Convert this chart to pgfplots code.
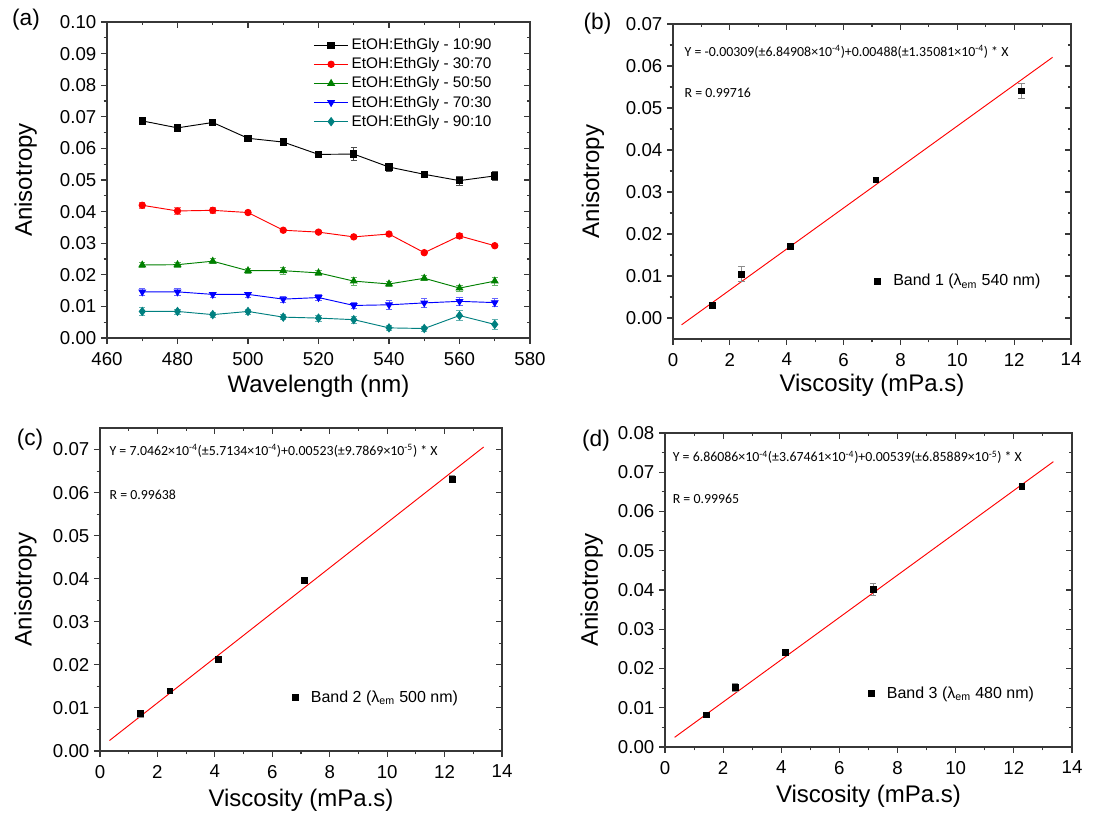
\documentclass[border=0pt]{standalone}
\usepackage{pgfplots}
\pgfplotsset{compat=1.18}
\usepackage{fontspec}
\setmainfont{Liberation Sans}
\newfontfamily\calfont{Carlito}
\definecolor{ogreen}{RGB}{0,128,0}
\definecolor{oteal}{RGB}{0,128,128}
\definecolor{axc}{RGB}{55,55,55}
\pgfplotsset{
 panel/.style={scale only axis, axis line style={axc,line width=0.8pt},
   tick style={axc,line width=0.8pt}, major tick length=4.5pt, minor tick length=2.5pt,
   minor x tick num=1, minor y tick num=1,
   tick label style={font=\fontsize{14}{16}\selectfont},
   label style={font=\fontsize{18}{21}\selectfont},
   /pgf/number format/assume math mode=true, scaled y ticks=false, scaled x ticks=false},
 front/.style={panel, tick align=outside, xtick pos=left, ytick pos=left,
   xticklabel style={yshift=-2.5pt},
   yticklabel style={/pgf/number format/.cd, fixed, fixed zerofill, precision=2}},
 back/.style={panel, tick align=inside, xtick pos=right, ytick pos=right,
   xticklabels={}, yticklabels={}},
 ebar/.style={error bars/.cd, y dir=both, y explicit,
   error bar style={#1, line width=0.5pt},
   error mark options={rotate=90, mark size=2.3pt, line width=0.5pt, #1}},
 ser/.style={line width=0.7pt, mark size=2.4pt, mark options={solid}},
 bandleg/.style={legend style={draw=none, fill=none, inner sep=0pt, anchor=west,
   font=\fontsize{12}{15}\selectfont},
   legend image code/.code={\path[draw=none,fill=none] (0pt,0pt) (20pt,0pt); \draw[mark repeat=2,mark phase=2,##1] plot coordinates {(0pt,0pt)(10pt,0pt)(20pt,0pt)};}},
}
\tikzset{eqfont/.style={font=\calfont\fontsize{10.4}{12.5}\selectfont, anchor=west, inner sep=0pt}}
\begin{document}
\begin{tikzpicture}
\useasboundingbox (0,0) rectangle (831.75pt,609.75pt);
\fill[white] (0,0) rectangle (831.75pt,609.75pt);

% ---------------- (a)
\begin{axis}[back, at={(80.25pt,356.25pt)}, anchor=south west, width=317.25pt, height=237pt,
  xmin=460, xmax=580, ymin=0, ymax=0.1, xtick={460,480,...,580},
  ytick={0,0.01,0.02,0.03,0.04,0.05,0.06,0.07,0.08,0.09,0.1}]
\end{axis}
\begin{axis}[front, at={(80.25pt,356.25pt)}, anchor=south west, width=317.25pt, height=237pt,
  xmin=460, xmax=580, ymin=0, ymax=0.1, xtick={460,480,...,580},
  ytick={0,0.01,0.02,0.03,0.04,0.05,0.06,0.07,0.08,0.09,0.1},
  xlabel={Wavelength (nm)}, ylabel={Anisotropy},
  x label style={at={(axis description cs:0.5,0)}, anchor=center, yshift=-36pt},
  y label style={at={(axis description cs:0,0.5)}, anchor=center, yshift=61pt},
  legend style={draw=none, fill=none, at={(axis description cs:0.925,0.965)}, anchor=north east,
    font=\fontsize{11.5}{13}\selectfont, row sep=0.5pt},
  legend cell align=left,
  legend image code/.code={\draw[mark repeat=2,mark phase=2,#1] plot coordinates {(0pt,0pt)(13pt,0pt)(26pt,0pt)};}]
\addplot[ser, black, mark=square*, ebar=black!70] table[x=x, y=y, y error=e] {
x y e
470 0.0687 0.0005
480 0.0665 0.0005
490 0.0682 0.0005
500 0.0632 0.0005
510 0.0620 0.0010
520 0.0581 0.0005
530 0.0582 0.0021
540 0.0541 0.0013
550 0.0518 0.0004
560 0.0498 0.0015
570 0.0513 0.0013
};
\addlegendentry{EtOH:EthGly - 10:90}
\addplot[ser, red, mark=*, ebar=red!60] table[x=x, y=y, y error=e] {
x y e
470 0.0420 0.0009
480 0.0402 0.0012
490 0.0404 0.0008
500 0.0397 0.0005
510 0.0341 0.0005
520 0.0335 0.0005
530 0.0320 0.0005
540 0.0329 0.0005
550 0.0270 0.0005
560 0.0323 0.0008
570 0.0292 0.0005
};
\addlegendentry{EtOH:EthGly - 30:70}
\addplot[ser, ogreen, mark=triangle*, mark size=2.8pt, ebar=ogreen!60] table[x=x, y=y, y error=e] {
x y e
470 0.0231 0.0008
480 0.0232 0.0008
490 0.0243 0.0008
500 0.0213 0.0008
510 0.0213 0.0012
520 0.0206 0.0008
530 0.0180 0.0012
540 0.0171 0.0008
550 0.0189 0.0008
560 0.0158 0.0010
570 0.0180 0.0012
};
\addlegendentry{EtOH:EthGly - 50:50}
\addplot[ser, blue, mark=triangle*, mark size=2.8pt, mark options={rotate=180}, ebar=blue!60] table[x=x, y=y, y error=e] {
x y e
470 0.0146 0.0010
480 0.0146 0.0010
490 0.0138 0.0008
500 0.0138 0.0008
510 0.0123 0.0010
520 0.0128 0.0010
530 0.0103 0.0010
540 0.0105 0.0014
550 0.0111 0.0014
560 0.0116 0.0013
570 0.0112 0.0013
};
\addlegendentry{EtOH:EthGly - 70:30}
\addplot[ser, oteal, mark=diamond*, mark size=3pt, ebar=oteal!60] table[x=x, y=y, y error=e] {
x y e
470 0.0084 0.0013
480 0.0084 0.0008
490 0.0074 0.0008
500 0.0084 0.0008
510 0.0066 0.0008
520 0.0063 0.0010
530 0.0058 0.0012
540 0.0032 0.0008
550 0.0030 0.0008
560 0.0071 0.0015
570 0.0043 0.0015
};
\addlegendentry{EtOH:EthGly - 90:10}
\end{axis}
\node[font=\fontsize{17}{20}\selectfont] at (19.5pt,594.75pt) {(a)};

% ---------------- (b)
\begin{axis}[back, at={(504.75pt,355.5pt)}, anchor=south west, width=298.5pt, height=236.25pt,
  xmin=0, xmax=14, ymin=-0.005, ymax=0.07, xtick={0,2,...,14},
  ytick={0,0.01,0.02,0.03,0.04,0.05,0.06,0.07}]
\end{axis}
\begin{axis}[front, bandleg, at={(504.75pt,355.5pt)}, anchor=south west, width=298.5pt, height=236.25pt,
  xmin=0, xmax=14, ymin=-0.005, ymax=0.07, xtick={0,2,...,14},
  ytick={0,0.01,0.02,0.03,0.04,0.05,0.06,0.07},
  xlabel={Viscosity (mPa.s)}, ylabel={Anisotropy},
  x label style={at={(axis description cs:0.5,0)}, anchor=center, yshift=-34.5pt},
  y label style={at={(axis description cs:0,0.5)}, anchor=center, yshift=60pt},
  legend style={at={(axis description cs:0.479,0.184)}}]
\addplot[red, line width=0.7pt, forget plot] coordinates {(0.30,-0.00163) (13.35,0.06206)};
\addplot[only marks, black, mark=square*, mark size=2.2pt, ebar=black!45] coordinates {
 (1.39,0.0031) +- (0,0.0006)
 (2.41,0.0105) +- (0,0.0017)
 (4.13,0.0170) +- (0,0.0004)
 (7.13,0.0329) +- (0,0.0005)
 (12.26,0.0541) +- (0,0.0017)
};
\addlegendentry{Band 1 (λ\textsubscript{em} 540 nm)}
\node[eqfont] at (axis cs:0.40,0.0634) {Y = -0.00309(±6.84908×10\textsuperscript{-4})+0.00488(±1.35081×10\textsuperscript{-4}) * X};
\node[eqfont] at (axis cs:0.40,0.0535) {R = 0.99716};
\end{axis}
\node[font=\fontsize{17}{20}\selectfont] at (448.1pt,591.75pt) {(b)};

% ---------------- (c)
\begin{axis}[back, at={(75pt,46.5pt)}, anchor=south west, width=301.5pt, height=242.25pt,
  xmin=0, xmax=14, ymin=0, ymax=0.075, xtick={0,2,...,14},
  ytick={0,0.01,0.02,0.03,0.04,0.05,0.06,0.07}]
\end{axis}
\begin{axis}[front, bandleg, at={(75pt,46.5pt)}, anchor=south west, width=301.5pt, height=242.25pt,
  xmin=0, xmax=14, ymin=0, ymax=0.075, xtick={0,2,...,14},
  ytick={0,0.01,0.02,0.03,0.04,0.05,0.06,0.07},
  xlabel={Viscosity (mPa.s)}, ylabel={Anisotropy},
  x label style={at={(axis description cs:0.5,0)}, anchor=center, yshift=-37pt},
  y label style={at={(axis description cs:0,0.5)}, anchor=center, yshift=56pt},
  legend style={at={(axis description cs:0.451,0.166)}}]
\addplot[red, line width=0.7pt, forget plot] coordinates {(0.33,0.00243) (13.36,0.07058)};
\addplot[only marks, black, mark=square*, mark size=2.2pt, ebar=black!45] coordinates {
 (1.41,0.0087) +- (0,0.0008)
 (2.43,0.0140) +- (0,0.0005)
 (4.13,0.0214) +- (0,0.0004)
 (7.12,0.0397) +- (0,0.0004)
 (12.27,0.0631) +- (0,0.0008)
};
\addlegendentry{Band 2 (λ\textsubscript{em} 500 nm)}
\node[eqfont] at (axis cs:0.325,0.0696) {Y = 7.0462×10\textsuperscript{-4}(±5.7134×10\textsuperscript{-4})+0.00523(±9.7869×10\textsuperscript{-5}) * X};
\node[eqfont] at (axis cs:0.325,0.0595) {R = 0.99638};
\end{axis}
\node[font=\fontsize{17}{20}\selectfont] at (22.5pt,279.75pt) {(c)};

% ---------------- (d)
\begin{axis}[back, at={(498.75pt,49.5pt)}, anchor=south west, width=305.25pt, height=235.5pt,
  xmin=0, xmax=14, ymin=0, ymax=0.08, xtick={0,2,...,14},
  ytick={0,0.01,0.02,0.03,0.04,0.05,0.06,0.07,0.08}]
\end{axis}
\begin{axis}[front, bandleg, at={(498.75pt,49.5pt)}, anchor=south west, width=305.25pt, height=235.5pt,
  xmin=0, xmax=14, ymin=0, ymax=0.08, xtick={0,2,...,14},
  ytick={0,0.01,0.02,0.03,0.04,0.05,0.06,0.07,0.08},
  xlabel={Viscosity (mPa.s)}, ylabel={Anisotropy},
  x label style={at={(axis description cs:0.5,0)}, anchor=center, yshift=-37pt},
  y label style={at={(axis description cs:0,0.5)}, anchor=center, yshift=55pt},
  legend style={at={(axis description cs:0.4725,0.170)}}]
\addplot[red, line width=0.7pt, forget plot] coordinates {(0.33,0.00246) (13.36,0.07270)};
\addplot[only marks, black, mark=square*, mark size=2.2pt, ebar=black!45] coordinates {
 (1.41,0.0082) +- (0,0.0004)
 (2.42,0.0153) +- (0,0.0010)
 (4.13,0.0242) +- (0,0.0006)
 (7.15,0.0401) +- (0,0.0015)
 (12.27,0.0665) +- (0,0.0005)
};
\addlegendentry{Band 3 (λ\textsubscript{em} 480 nm)}
\node[eqfont] at (axis cs:0.26,0.0738) {Y = 6.86086×10\textsuperscript{-4}(±3.67461×10\textsuperscript{-4})+0.00539(±6.85889×10\textsuperscript{-5}) * X};
\node[eqfont] at (axis cs:0.26,0.0631) {R = 0.99965};
\end{axis}
\node[font=\fontsize{17}{20}\selectfont] at (447pt,279pt) {(d)};
\end{tikzpicture}
\end{document}
